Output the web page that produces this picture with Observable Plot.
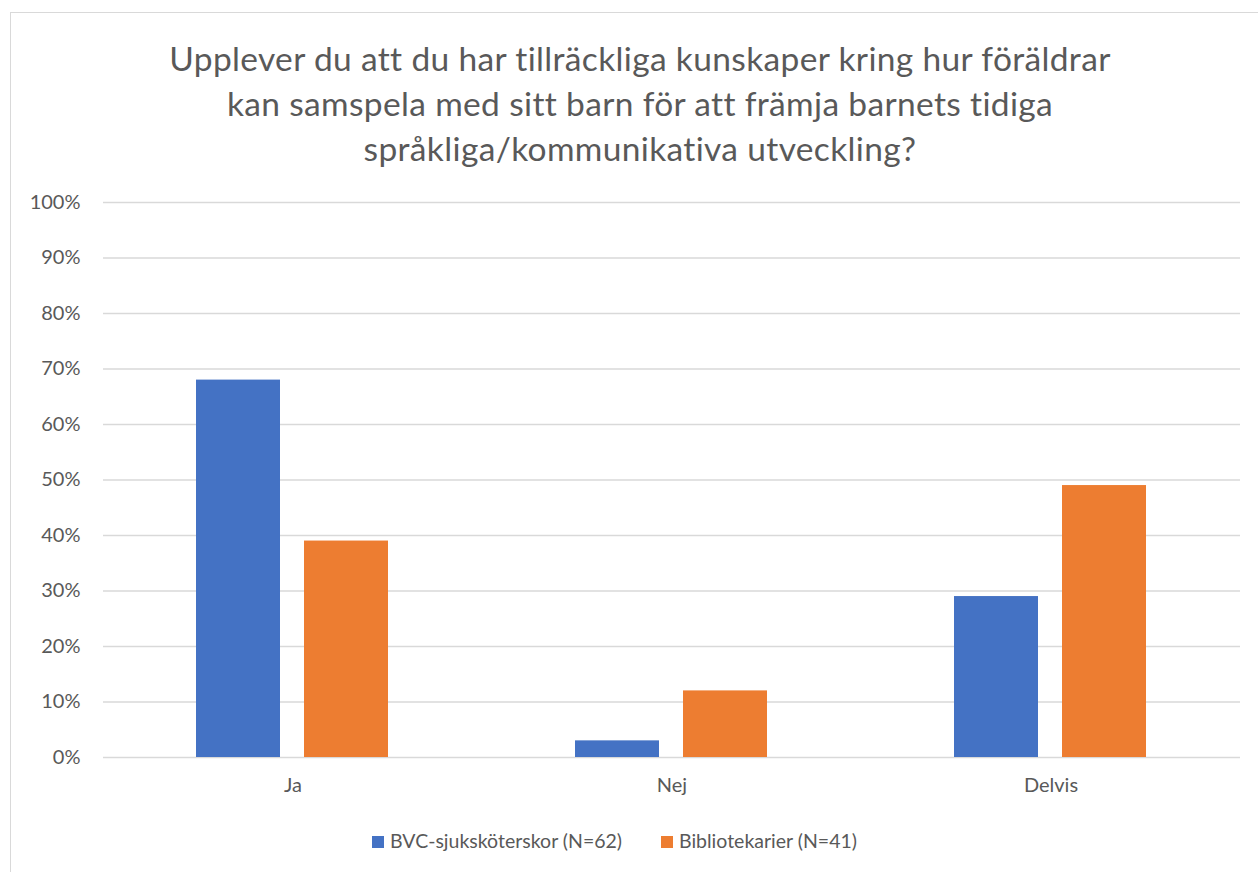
<!DOCTYPE html>
<html>
<head>
<meta charset="utf-8">
<script src="https://cdn.jsdelivr.net/npm/d3@7"></script>
<script src="https://cdn.jsdelivr.net/npm/@observablehq/plot@0.6"></script>
<style>
  html, body { margin: 0; padding: 0; background: #fff; width: 1258px; height: 872px; overflow: hidden; }
  #frame { position: absolute; left: 10px; top: 12px; width: 1270px; height: 880px; border: 1px solid #d9d9d9; box-sizing: border-box; }
  #title { position: absolute; left: 0; width: 1280px; top: 36px; text-align: center; font-family: Lato, sans-serif; font-size: 33.5px; letter-spacing: 0.35px; line-height: 45px; color: #595959; }
  #chart { position: absolute; left: 0; top: 180px; }
  #legend { position: absolute; top: 829px; left: 0; width: 1258px; font-family: Lato, sans-serif; font-size: 19.5px; color: #595959; }
  .item { position: absolute; top: 0; white-space: nowrap; line-height: 24px; }
  .sw { display: inline-block; width: 12px; height: 12px; margin-right: 6px; vertical-align: 0px; }
</style>
</head>
<body>
<div id="frame"></div>
<div id="title">Upplever du att du har tillräckliga kunskaper kring hur föräldrar<br>kan samspela med sitt barn för att främja barnets tidiga<br>språkliga/kommunikativa utveckling?</div>
<div id="chart"></div>
<div id="legend"></div>
<script>
const categories = ["Ja", "Nej", "Delvis"];
const seriesNames = ["BVC-sjuksköterskor (N=62)", "Bibliotekarier (N=41)"];
const bvcValues = [0.68, 0.03, 0.29];
const bibValues = [0.39, 0.12, 0.49];
const colors = ["#4472C4", "#ED7D31"];
const yTicks = [0, 0.1, 0.2, 0.3, 0.4, 0.5, 0.6, 0.7, 0.8, 0.9, 1.0];

const data = [];
categories.forEach((c, i) => {
  data.push({category: c, series: seriesNames[0], value: bvcValues[i]});
  data.push({category: c, series: seriesNames[1], value: bibValues[i]});
});

const chart = Plot.plot({
  width: 1258,
  height: 627,
  marginTop: 22,
  marginBottom: 50,
  marginLeft: 103,
  marginRight: 18,
  style: {fontFamily: "Lato, sans-serif", fontSize: "20px", color: "#595959", background: "transparent"},
  fx: {domain: categories, padding: 0, label: null, axis: "bottom", tickSize: 0, tickPadding: 20},
  x: {domain: seriesNames, paddingInner: 0.2202, paddingOuter: 0.849, axis: null},
  y: {domain: [0, 1], ticks: yTicks, tickFormat: d3.format(".0%"), label: null, tickSize: 0, tickPadding: 23},
  color: {domain: seriesNames, range: colors},
  marks: [
    Plot.ruleY(yTicks, {stroke: "#d9d9d9", strokeWidth: 1.4}),
    Plot.barY(data, {fx: "category", x: "series", y: "value", fill: "series"})
  ]
});
document.getElementById("chart").appendChild(chart);

const legend = document.getElementById("legend");
const lefts = [372, 661];
seriesNames.forEach((s, i) => {
  const d = document.createElement("div");
  d.className = "item";
  d.style.left = lefts[i] + "px";
  d.innerHTML = `<span class="sw" style="background:${colors[i]}"></span>${s}`;
  legend.appendChild(d);
});
</script>
</body>
</html>
